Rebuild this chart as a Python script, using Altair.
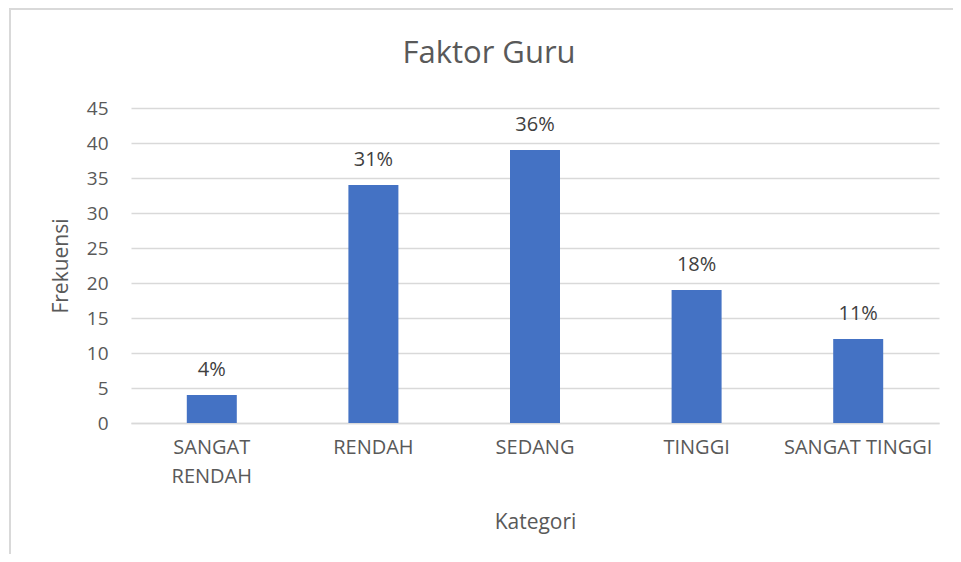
import altair as alt
import pandas as pd

categories = ["SANGAT RENDAH", "RENDAH", "SEDANG", "TINGGI", "SANGAT TINGGI"]
frekuensi = [4, 34, 39, 19, 12]
persen = ["4%", "31%", "36%", "18%", "11%"]
y_ticks = [0, 5, 10, 15, 20, 25, 30, 35, 40, 45]

df = pd.DataFrame({"Kategori": categories, "Frekuensi": frekuensi, "Persen": persen})

FONT = "Open Sans"
GRAY = "#595959"

x_enc = alt.X(
    "Kategori:N",
    sort=categories,
    scale=alt.Scale(paddingInner=0, paddingOuter=0),
    axis=alt.Axis(
        title="Kategori",
        labelAngle=0,
        labelFontSize=20,
        labelFont=FONT,
        labelColor=GRAY,
        labelPadding=14,
        labelLineHeight=29,
        labelExpr="datum.label == 'SANGAT RENDAH' ? ['SANGAT', 'RENDAH'] : datum.label",
        labelOverlap=False,
        ticks=False,
        domain=True,
        domainColor="#d9d9d9",
        domainWidth=1.5,
        titleFont=FONT,
        titleFontSize=21,
        titleFontWeight="normal",
        titleColor=GRAY,
        titlePadding=25,
    ),
)
y_enc = alt.Y(
    "Frekuensi:Q",
    scale=alt.Scale(domain=[0, 45], nice=False),
    axis=alt.Axis(
        title="Frekuensi",
        values=y_ticks,
        tickCount=10,
        labelOverlap=False,
        labelFontSize=19,
        labelFont=FONT,
        labelColor=GRAY,
        labelPadding=23,
        ticks=False,
        domain=False,
        gridColor="#d9d9d9",
        gridWidth=1.5,
        titleFont=FONT,
        titleFontSize=21,
        titleFontWeight="normal",
        titleColor=GRAY,
        titlePadding=15,
    ),
)

bars = alt.Chart(df).mark_bar(size=50, color="#4472C4").encode(x=x_enc, y=y_enc)

labels = alt.Chart(df).mark_text(
    baseline="alphabetic", dy=-19, fontSize=20, font=FONT, color="#404040"
).encode(x=x_enc, y=y_enc, text="Persen:N")

border = alt.Chart(df).mark_rect(
    fill="transparent", stroke="#d9d9d9", strokeWidth=1.5, clip=False
).encode(
    x=alt.value(-121), x2=alt.value(840), y=alt.value(-99), y2=alt.value(500)
)

chart = (
    alt.layer(border, bars, labels)
    .properties(
        width=808,
        height=315,
        background="white",
        title=alt.TitleParams(
            "Faktor Guru",
            font=FONT,
            fontSize=31,
            fontWeight="normal",
            color=GRAY,
            anchor="middle",
            dx=-46,
            offset=-62,
        ),
        padding={"left": 123, "top": 100, "right": 14, "bottom": 131},
        autosize=alt.AutoSizeParams(type="none"),
    )
    .configure_view(stroke="transparent")
)

chart.save("out.html", embed_options={"renderer": "svg", "actions": False})
